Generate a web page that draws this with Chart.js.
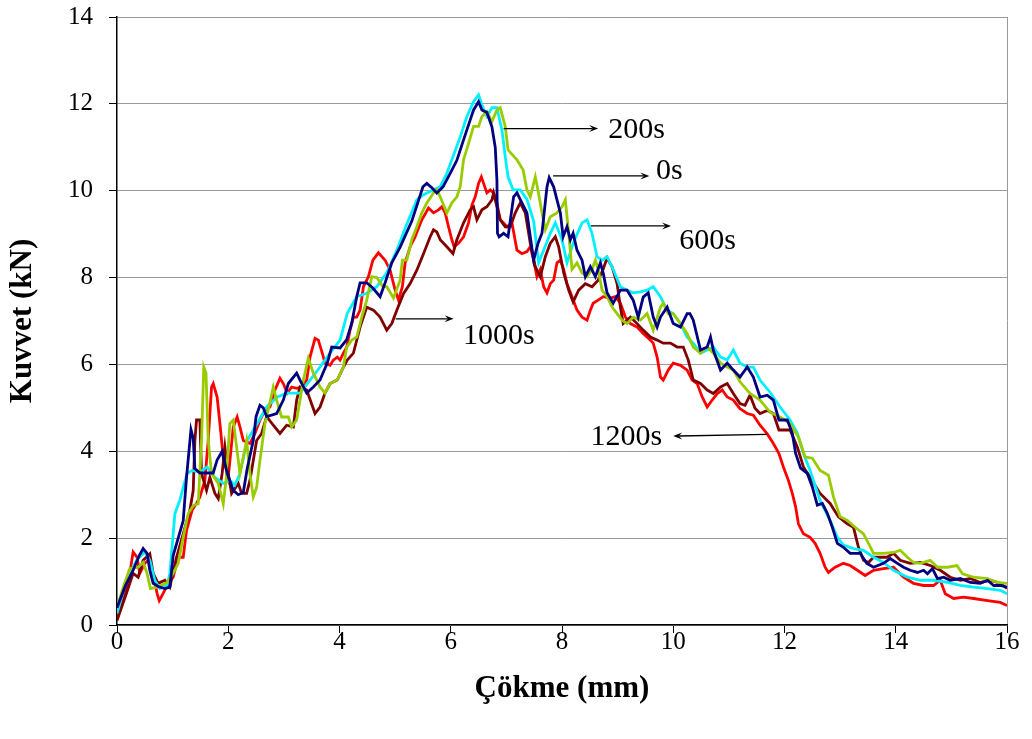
<!DOCTYPE html>
<html>
<head>
<meta charset="utf-8">
<script src="https://cdn.jsdelivr.net/npm/chart.js@4.4.0/dist/chart.umd.min.js"></script>
<style>
  html, body { margin: 0; padding: 0; background: #fff; }
  canvas { display: block; }
</style>
</head>
<body>
<canvas id="chart" width="1032" height="739"></canvas>
<script>
// Kuvvet - çökme eğrileri, [çökme (mm), kuvvet (kN)]
const curve0s = [[0,0.4],[0.15,0.9],[0.29,1.26],[0.4,1.6],[0.47,1.76],[0.54,1.65],[0.59,1.26],[0.65,0.96],[0.75,0.88],[0.86,0.84],[0.95,0.87],[1.01,1.6],[1.1,2.0],[1.19,2.4],[1.25,3.4],[1.33,4.5],[1.37,4.3],[1.4,3.6],[1.49,3.5],[1.62,3.5],[1.73,3.5],[1.8,3.8],[1.89,4.0],[1.98,3.5],[2.09,3.1],[2.18,3.0],[2.27,3.05],[2.34,3.6],[2.45,4.25],[2.5,4.8],[2.57,5.06],[2.63,5.0],[2.69,4.8],[2.87,4.87],[2.99,5.18],[3.08,5.56],[3.23,5.8],[3.29,5.64],[3.41,5.34],[3.53,5.48],[3.65,5.64],[3.78,6.03],[3.86,6.4],[4.01,6.38],[4.13,6.57],[4.22,6.95],[4.31,7.56],[4.37,7.88],[4.49,7.88],[4.6,7.76],[4.73,7.56],[4.82,7.88],[4.94,8.34],[5.09,8.7],[5.3,9.3],[5.5,10.09],[5.57,10.17],[5.66,10.07],[5.75,9.95],[5.86,10.09],[5.99,10.4],[6.11,10.7],[6.23,11.17],[6.35,11.63],[6.41,11.86],[6.5,12.05],[6.56,11.86],[6.65,11.8],[6.74,11.47],[6.8,11.0],[6.83,10.25],[6.84,9.02],[6.87,8.94],[6.95,9.02],[7.03,8.94],[7.13,9.86],[7.19,9.95],[7.28,9.72],[7.37,9.49],[7.43,8.94],[7.49,8.4],[7.57,8.79],[7.64,9.02],[7.73,10.09],[7.77,10.3],[7.85,10.09],[7.91,9.79],[7.97,9.49],[8.02,8.94],[8.09,9.17],[8.15,8.87],[8.2,9.02],[8.27,8.63],[8.36,8.4],[8.42,8.02],[8.51,8.25],[8.6,8.02],[8.69,8.34],[8.74,8.11],[8.81,7.65],[8.92,7.41],[9.05,7.71],[9.17,7.71],[9.28,7.48],[9.37,7.09],[9.46,7.55],[9.55,7.65],[9.64,7.09],[9.71,6.86],[9.77,7.09],[9.89,7.32],[10.0,6.94],[10.13,6.86],[10.25,7.17],[10.3,7.17],[10.36,7.02],[10.49,6.33],[10.61,6.4],[10.67,6.63],[10.72,6.33],[10.85,5.87],[10.97,6.03],[11.08,5.87],[11.2,5.71],[11.33,5.94],[11.44,5.71],[11.56,5.25],[11.69,5.29],[11.8,5.18],[11.9,4.72],[12.05,4.72],[12.14,4.42],[12.2,3.95],[12.29,3.61],[12.41,3.49],[12.5,3.18],[12.59,2.76],[12.68,2.8],[12.77,2.57],[12.86,2.25],[12.95,1.88],[13.06,1.79],[13.18,1.65],[13.36,1.65],[13.48,1.42],[13.6,1.33],[13.78,1.42],[13.9,1.53],[14.03,1.42],[14.14,1.33],[14.26,1.26],[14.39,1.21],[14.5,1.26],[14.57,1.18],[14.66,1.3],[14.75,1.07],[14.86,1.1],[14.98,1.03],[15.16,1.07],[15.34,0.98],[15.52,0.96],[15.65,1.03],[15.76,0.91],[15.88,0.91],[16,0.87]];

const curve200s = [[0,0.4],[0.11,0.86],[0.23,1.3],[0.38,1.33],[0.47,1.44],[0.54,1.19],[0.6,0.84],[0.72,0.87],[0.9,0.98],[1.01,1.19],[1.1,1.42],[1.19,2.02],[1.28,2.56],[1.37,2.75],[1.46,2.79],[1.52,4.25],[1.56,5.94],[1.6,5.8],[1.64,4.25],[1.7,3.49],[1.82,3.26],[1.91,2.79],[1.96,3.33],[2.03,4.64],[2.09,4.72],[2.15,4.1],[2.21,3.49],[2.27,3.86],[2.33,4.25],[2.39,3.49],[2.45,2.95],[2.51,3.17],[2.57,3.79],[2.66,4.64],[2.75,5.13],[2.81,5.48],[2.87,5.18],[2.96,4.79],[3.08,4.79],[3.14,4.56],[3.23,4.72],[3.35,5.64],[3.44,6.14],[3.53,5.8],[3.65,5.48],[3.74,5.34],[3.83,5.56],[3.96,5.64],[4.07,5.94],[4.13,6.4],[4.22,6.56],[4.31,6.63],[4.4,7.09],[4.49,7.48],[4.58,8.02],[4.67,8.0],[4.78,7.79],[4.85,7.79],[4.97,7.53],[5.09,7.94],[5.13,8.4],[5.21,8.4],[5.3,8.87],[5.39,9.17],[5.48,9.49],[5.57,9.72],[5.69,9.95],[5.75,10.02],[5.81,9.86],[5.93,9.49],[6.02,9.72],[6.11,9.86],[6.17,10.09],[6.23,10.71],[6.32,11.09],[6.41,11.48],[6.5,11.48],[6.56,11.71],[6.65,11.82],[6.74,11.59],[6.83,11.86],[6.89,11.91],[6.98,11.48],[7.03,10.94],[7.19,10.71],[7.3,10.48],[7.37,10.02],[7.43,9.86],[7.52,10.32],[7.57,10.0],[7.64,9.49],[7.7,9.1],[7.79,9.4],[7.91,9.49],[8.0,9.63],[8.06,9.79],[8.12,9.02],[8.18,8.19],[8.27,8.34],[8.36,8.11],[8.45,8.02],[8.54,8.19],[8.6,8.4],[8.65,8.19],[8.72,7.71],[8.81,7.56],[8.9,7.32],[8.99,7.17],[9.08,7.02],[9.17,6.94],[9.28,7.09],[9.41,7.02],[9.53,7.17],[9.64,6.79],[9.77,7.32],[9.82,7.41],[9.91,7.17],[10.0,7.17],[10.13,6.94],[10.25,6.71],[10.36,6.4],[10.49,6.26],[10.61,6.4],[10.72,6.26],[10.85,6.03],[10.97,5.94],[11.08,5.87],[11.2,5.6],[11.38,5.33],[11.56,5.18],[11.74,4.9],[11.92,4.79],[12.1,4.64],[12.25,4.33],[12.37,3.87],[12.5,3.84],[12.64,3.56],[12.79,3.45],[12.88,2.95],[13.0,2.49],[13.13,2.41],[13.27,2.25],[13.42,2.1],[13.51,1.88],[13.6,1.65],[13.78,1.65],[13.96,1.67],[14.08,1.72],[14.21,1.56],[14.32,1.44],[14.44,1.42],[14.62,1.49],[14.75,1.33],[14.93,1.33],[15.1,1.37],[15.2,1.18],[15.4,1.1],[15.65,1.07],[15.83,0.98],[16,0.96]];

const curve600s = [[0,0.27],[0.17,1.03],[0.35,1.49],[0.5,1.68],[0.59,1.49],[0.68,1.03],[0.77,0.84],[0.9,0.91],[0.95,1.19],[1.01,2.1],[1.04,2.56],[1.13,2.87],[1.19,3.17],[1.26,3.49],[1.35,3.56],[1.49,3.52],[1.62,3.64],[1.76,3.4],[1.91,3.26],[2.03,3.33],[2.12,3.22],[2.21,3.49],[2.34,4.25],[2.52,4.64],[2.69,5.02],[2.88,5.25],[3.06,5.34],[3.29,5.34],[3.47,5.64],[3.65,5.94],[3.83,6.26],[4.01,6.56],[4.14,7.18],[4.31,7.56],[4.49,7.64],[4.67,7.79],[4.85,8.11],[5.03,8.63],[5.2,9.2],[5.39,9.79],[5.5,9.9],[5.69,10.02],[5.81,10.09],[5.93,10.4],[6.04,10.78],[6.17,11.24],[6.29,11.71],[6.41,12.05],[6.5,12.21],[6.56,11.98],[6.65,11.71],[6.74,11.91],[6.83,11.91],[6.92,11.4],[6.98,10.78],[7.03,10.32],[7.12,10.02],[7.25,10.02],[7.37,9.8],[7.49,9.3],[7.58,8.34],[7.67,8.63],[7.79,9.02],[7.88,9.26],[8.0,8.87],[8.09,8.34],[8.2,8.79],[8.36,9.26],[8.45,9.33],[8.54,9.02],[8.63,8.48],[8.72,8.4],[8.81,8.48],[8.92,8.19],[9.05,7.79],[9.17,7.71],[9.28,7.65],[9.41,7.67],[9.53,7.71],[9.64,7.79],[9.77,7.56],[9.89,7.25],[10.0,7.17],[10.13,6.94],[10.25,6.63],[10.36,6.49],[10.49,6.26],[10.61,6.33],[10.72,6.4],[10.85,6.17],[10.97,6.1],[11.08,6.33],[11.2,6.03],[11.33,5.94],[11.44,5.94],[11.56,5.64],[11.74,5.36],[11.92,5.02],[12.1,4.72],[12.23,4.42],[12.34,3.95],[12.46,3.56],[12.64,2.87],[12.82,2.41],[12.95,2.02],[13.06,1.84],[13.24,1.76],[13.42,1.72],[13.6,1.56],[13.78,1.44],[13.96,1.26],[14.21,1.1],[14.44,1.03],[14.68,1.03],[14.93,0.98],[15.16,0.91],[15.4,0.87],[15.65,0.84],[15.88,0.8],[16,0.72]];

const curve1000s = [[0,0.1],[0.17,0.73],[0.29,1.19],[0.38,1.1],[0.47,1.49],[0.59,1.64],[0.65,1.19],[0.74,0.96],[0.86,1.03],[0.95,0.87],[1.07,1.56],[1.19,2.1],[1.31,2.64],[1.37,3.1],[1.4,4.25],[1.43,4.72],[1.49,4.72],[1.52,3.49],[1.61,3.1],[1.67,3.4],[1.76,3.03],[1.82,2.91],[1.89,3.49],[1.94,4.1],[2.0,3.49],[2.06,3.03],[2.18,3.26],[2.24,3.03],[2.33,3.03],[2.39,3.33],[2.51,4.25],[2.6,4.41],[2.69,4.8],[2.81,4.6],[2.93,4.41],[3.05,4.6],[3.17,4.56],[3.23,5.18],[3.29,5.48],[3.41,5.41],[3.56,4.87],[3.65,5.02],[3.74,5.34],[3.83,5.56],[3.96,5.64],[4.07,5.94],[4.14,6.1],[4.25,6.26],[4.37,6.86],[4.49,7.32],[4.61,7.25],[4.73,7.09],[4.85,6.79],[4.94,6.94],[5.03,7.25],[5.15,7.63],[5.27,7.86],[5.39,8.17],[5.51,8.55],[5.63,8.94],[5.69,9.1],[5.75,9.05],[5.81,8.87],[5.93,8.71],[6.04,8.55],[6.11,8.87],[6.23,9.26],[6.35,9.56],[6.41,9.63],[6.47,9.33],[6.56,9.56],[6.65,9.63],[6.74,9.79],[6.77,9.95],[6.83,9.63],[6.89,9.33],[6.98,9.17],[7.07,9.17],[7.16,9.49],[7.25,9.72],[7.34,9.49],[7.43,8.79],[7.52,8.25],[7.61,8.02],[7.7,8.48],[7.79,8.79],[7.88,8.94],[7.94,8.71],[8.03,8.11],[8.12,7.71],[8.2,7.44],[8.3,7.71],[8.42,7.86],[8.54,7.79],[8.65,7.94],[8.74,8.19],[8.81,8.45],[8.9,8.25],[8.99,7.86],[9.05,7.32],[9.1,6.94],[9.23,7.09],[9.35,6.94],[9.46,6.79],[9.59,6.63],[9.71,6.56],[9.82,6.49],[9.95,6.49],[10.07,6.4],[10.18,6.4],[10.27,6.1],[10.36,5.64],[10.49,5.56],[10.61,5.41],[10.72,5.33],[10.85,5.48],[10.97,5.56],[11.08,5.33],[11.2,5.1],[11.29,5.06],[11.38,5.29],[11.47,4.99],[11.56,4.87],[11.69,4.94],[11.8,4.87],[11.9,4.49],[12.1,4.49],[12.23,4.1],[12.34,3.64],[12.46,3.4],[12.64,3.03],[12.82,2.8],[12.97,2.49],[13.13,2.33],[13.24,2.25],[13.33,1.79],[13.42,1.49],[13.51,1.44],[13.6,1.56],[13.84,1.56],[13.96,1.65],[14.08,1.49],[14.26,1.42],[14.44,1.44],[14.62,1.37],[14.8,1.26],[14.98,1.1],[15.16,1.03],[15.34,1.07],[15.52,0.98],[15.7,1.03],[15.88,0.96],[16,0.84]];

const curve1200s = [[0,0.17],[0.11,0.56],[0.23,1.19],[0.29,1.68],[0.36,1.56],[0.41,1.19],[0.5,1.42],[0.56,1.49],[0.65,1.19],[0.72,0.73],[0.76,0.56],[0.83,0.73],[0.92,0.96],[1.01,1.1],[1.1,1.56],[1.19,1.56],[1.25,2.18],[1.35,2.64],[1.43,2.8],[1.49,2.95],[1.58,3.33],[1.64,4.25],[1.7,5.48],[1.73,5.56],[1.8,5.25],[1.85,4.64],[1.91,3.86],[2.0,3.4],[2.09,4.56],[2.16,4.79],[2.21,4.56],[2.27,4.25],[2.39,4.18],[2.48,4.41],[2.57,4.72],[2.66,4.94],[2.75,5.02],[2.84,5.41],[2.93,5.68],[2.99,5.56],[3.06,5.34],[3.14,5.48],[3.23,5.45],[3.32,5.48],[3.41,5.64],[3.47,6.17],[3.56,6.6],[3.62,6.56],[3.69,6.26],[3.74,6.03],[3.83,5.98],[3.89,6.1],[3.96,6.17],[4.01,6.1],[4.07,6.26],[4.13,6.4],[4.19,6.79],[4.25,7.09],[4.31,7.09],[4.37,7.25],[4.43,7.79],[4.52,8.02],[4.6,8.4],[4.7,8.57],[4.82,8.4],[4.91,8.17],[5.0,7.71],[5.06,7.48],[5.13,7.79],[5.18,8.34],[5.27,8.71],[5.36,8.94],[5.48,9.33],[5.6,9.6],[5.69,9.49],[5.78,9.56],[5.84,9.63],[5.9,9.49],[5.96,9.17],[6.02,8.87],[6.06,8.71],[6.14,8.79],[6.23,8.94],[6.32,9.26],[6.38,9.67],[6.44,9.86],[6.5,10.17],[6.55,10.32],[6.59,10.17],[6.65,9.95],[6.71,10.02],[6.77,9.95],[6.83,9.72],[6.89,9.33],[6.95,9.26],[7.01,9.17],[7.1,9.26],[7.19,8.63],[7.28,8.55],[7.37,8.6],[7.43,8.71],[7.49,8.4],[7.55,8.02],[7.61,8.19],[7.67,7.79],[7.73,7.65],[7.79,7.86],[7.85,7.94],[7.91,8.34],[7.97,8.4],[8.03,8.19],[8.09,7.86],[8.18,7.56],[8.27,7.25],[8.36,7.09],[8.45,7.02],[8.51,7.25],[8.56,7.41],[8.65,7.48],[8.74,7.56],[8.87,7.53],[8.96,7.56],[9.05,7.41],[9.14,7.09],[9.23,6.94],[9.35,6.86],[9.46,6.71],[9.59,6.56],[9.64,6.49],[9.71,6.17],[9.77,5.71],[9.82,5.64],[9.91,5.87],[10.0,6.03],[10.13,5.98],[10.25,5.87],[10.34,5.64],[10.43,5.56],[10.52,5.25],[10.61,5.02],[10.7,5.18],[10.79,5.33],[10.88,5.41],[10.97,5.25],[11.08,5.18],[11.2,4.98],[11.33,4.87],[11.44,4.83],[11.56,4.6],[11.69,4.4],[11.8,4.18],[11.9,3.95],[11.98,3.64],[12.07,3.33],[12.14,3.03],[12.2,2.72],[12.25,2.33],[12.34,2.1],[12.46,2.02],[12.55,1.88],[12.64,1.65],[12.73,1.33],[12.79,1.21],[12.91,1.33],[13.06,1.42],[13.18,1.37],[13.31,1.26],[13.45,1.14],[13.6,1.26],[13.78,1.3],[13.96,1.33],[14.14,1.1],[14.32,0.96],[14.5,0.91],[14.68,0.91],[14.8,1.03],[14.89,0.72],[15.04,0.61],[15.22,0.64],[15.4,0.61],[15.65,0.56],[15.88,0.52],[16,0.45]];

const seriesNames = ['0s', '200s', '600s', '1000s', '1200s'];
const seriesCurves = [curve0s, curve200s, curve600s, curve1000s, curve1200s];
const seriesColors = ['#000080', '#99cc00', '#00f0ff', '#800000', '#ff0000'];

// etiket okları: ok başı, ok sonu (veri birimi) ve yazı konumu
const arrowNotes = [
  { text: '200s',  from: [6.95, 11.43], to: [8.65, 11.43],  at: [8.83, 11.4],  align: 'left' },
  { text: '0s',    from: [7.84, 10.34], to: [9.57, 10.34],  at: [9.69, 10.44], align: 'left' },
  { text: '600s',  from: [8.52, 9.19],  to: [9.96, 9.19],   at: [10.11, 8.84], align: 'left' },
  { text: '1000s', from: [5.01, 7.05],  to: [6.05, 7.05],   at: [6.22, 6.65],  align: 'left' },
  { text: '1200s', from: [11.68, 4.39], to: [10.0, 4.35],   at: [9.8, 4.32],   align: 'right' }
];

const serif = '"Liberation Serif", "Times New Roman", serif';

const arrowPlugin = {
  id: 'arrowNotes',
  afterDatasetsDraw(chart) {
    const { ctx, scales: { x, y } } = chart;
    ctx.save();
    ctx.strokeStyle = '#000';
    ctx.fillStyle = '#000';
    ctx.lineWidth = 1.3;
    arrowNotes.forEach(n => {
      const x1 = x.getPixelForValue(n.from[0]), y1 = y.getPixelForValue(n.from[1]);
      const x2 = x.getPixelForValue(n.to[0]),   y2 = y.getPixelForValue(n.to[1]);
      const ang = Math.atan2(y2 - y1, x2 - x1);
      const head = 9;
      ctx.beginPath();
      ctx.moveTo(x1, y1);
      ctx.lineTo(x2 - Math.cos(ang) * head * 0.6, y2 - Math.sin(ang) * head * 0.6);
      ctx.stroke();
      ctx.beginPath();
      ctx.moveTo(x2, y2);
      ctx.lineTo(x2 - Math.cos(ang) * head + Math.sin(ang) * 3.5, y2 - Math.sin(ang) * head - Math.cos(ang) * 3.5);
      ctx.lineTo(x2 - Math.cos(ang) * head * 0.6, y2 - Math.sin(ang) * head * 0.6);
      ctx.lineTo(x2 - Math.cos(ang) * head - Math.sin(ang) * 3.5, y2 - Math.sin(ang) * head + Math.cos(ang) * 3.5);
      ctx.closePath();
      ctx.fill();

      ctx.font = '30px ' + serif;
      ctx.textAlign = n.align;
      ctx.textBaseline = 'middle';
      ctx.fillText(n.text, x.getPixelForValue(n.at[0]), y.getPixelForValue(n.at[1]));
    });
    ctx.restore();
  }
};

new Chart(document.getElementById('chart'), {
  type: 'scatter',
  data: {
    datasets: seriesCurves.map((pts, i) => ({
      label: seriesNames[i],
      data: pts.map(p => ({ x: p[0], y: p[1] })),
      showLine: true,
      borderColor: seriesColors[i],
      borderWidth: 2.8,
      pointRadius: 0,
      tension: 0,
      fill: false
    }))
  },
  options: {
    responsive: false,
    animation: false,
    devicePixelRatio: 1,
    layout: { padding: { top: 17, right: 25, left: 0, bottom: 0 } },
    plugins: {
      legend: { display: false },
      tooltip: { enabled: false }
    },
    scales: {
      x: {
        type: 'linear',
        min: 0,
        max: 16,
        afterFit: s => { s.height = 114; },
        ticks: {
          stepSize: 2,
          padding: -6,
          color: '#000',
          font: { family: serif, size: 25 }
        },
        grid: {
          drawOnChartArea: true,
          color: c => (c.tick && c.tick.value === 16 ? '#9a9a9a' : 'rgba(0,0,0,0)'),
          tickColor: '#000',
          tickLength: 8
        },
        border: { color: '#000', width: 1.5 },
        title: {
          display: true,
          text: 'Çökme (mm)',
          color: '#000',
          font: { family: serif, size: 31, weight: 'bold' },
          padding: { top: 0, bottom: 31 }
        }
      },
      y: {
        min: 0,
        max: 14,
        afterFit: s => { s.width = 117; },
        ticks: {
          stepSize: 2,
          padding: 16,
          color: '#000',
          // small lineHeight keeps the top label from pushing the plot area down
          font: { family: serif, size: 25, lineHeight: 0.05 }
        },
        grid: {
          color: '#9a9a9a',
          tickColor: '#000',
          tickLength: 8
        },
        border: { color: '#000', width: 1.5 },
        title: {
          display: true,
          text: 'Kuvvet (kN)',
          color: '#000',
          font: { family: serif, size: 31, weight: 'bold' },
          padding: { top: 4, bottom: 0 }
        }
      }
    }
  },
  plugins: [arrowPlugin]
});
</script>
</body>
</html>
